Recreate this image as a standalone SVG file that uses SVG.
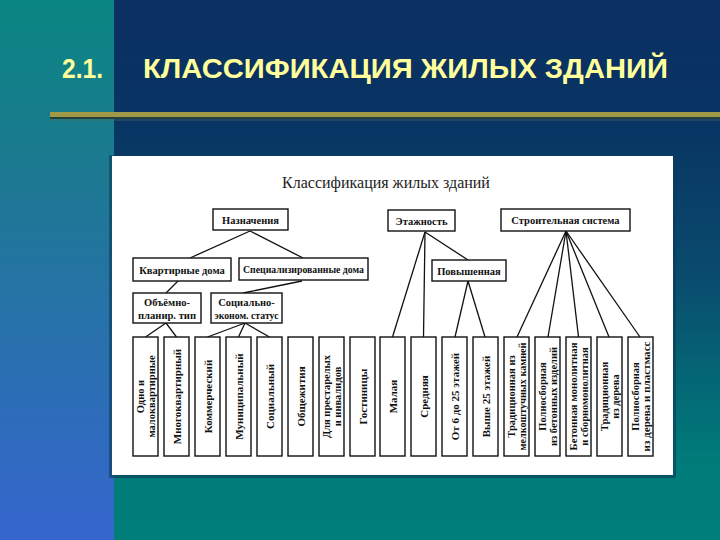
<svg xmlns="http://www.w3.org/2000/svg" width="720" height="540" viewBox="0 0 720 540">
<defs>
<linearGradient id="bg" x1="0" y1="0" x2="0" y2="1">
<stop offset="0" stop-color="#0b2f62"/>
<stop offset="0.22" stop-color="#083463"/>
<stop offset="0.5" stop-color="#0a4a6e"/>
<stop offset="0.85" stop-color="#007b7a"/>
<stop offset="1" stop-color="#007e7a"/>
</linearGradient>
<linearGradient id="strip" x1="0" y1="0" x2="0" y2="1">
<stop offset="0" stop-color="#0a8683"/>
<stop offset="0.3" stop-color="#1c7a90"/>
<stop offset="1" stop-color="#3666ce"/>
</linearGradient>
<style>
.t{font-family:"Liberation Sans","DejaVu Sans",sans-serif;font-weight:bold;fill:#ffff9c;font-size:28px}
.box{fill:#fff;stroke:#111;stroke-width:1.4}
.lbl{font-family:"Liberation Serif","DejaVu Serif",serif;font-weight:bold;font-size:10.5px;fill:#111;text-anchor:middle}
.vl{font-family:"Liberation Serif","DejaVu Serif",serif;font-weight:bold;font-size:11px;fill:#111;text-anchor:middle}
.vl2{font-family:"Liberation Serif","DejaVu Serif",serif;font-weight:bold;font-size:10.5px;fill:#111;text-anchor:middle}
#connectors line{stroke:#111;stroke-width:1.3}
</style>
</defs>
<rect x="0" y="0" width="720" height="540" fill="url(#bg)"/>
<rect x="0" y="0" width="114" height="540" fill="url(#strip)"/>
<text class="t" x="62" y="78" textLength="41" lengthAdjust="spacingAndGlyphs">2.1.</text>
<text class="t" x="143" y="78" textLength="525" lengthAdjust="spacingAndGlyphs">КЛАССИФИКАЦИЯ ЖИЛЫХ ЗДАНИЙ</text>
<rect x="50" y="112" width="670" height="5" fill="#a09a48"/>
<rect x="50" y="117" width="670" height="2" fill="#233f3e"/>
<rect x="50" y="119.5" width="670" height="1" fill="#5a6f5a" opacity="0.6"/>
<rect x="109" y="155" width="567" height="323" fill="#0c3a55" opacity="0.6"/>
<rect x="112" y="156" width="561" height="319" fill="#ffffff"/>
<text x="386" y="188" font-family="Liberation Serif, DejaVu Serif, serif" font-size="16" fill="#222" text-anchor="middle">Классификация жилых зданий</text>
<g id="connectors">
<line x1="250" y1="231" x2="190" y2="258"/>
<line x1="250" y1="231" x2="303" y2="258"/>
<line x1="178" y1="281" x2="166" y2="293"/>
<line x1="302" y1="281" x2="243" y2="293"/>
<line x1="166" y1="323" x2="145.5" y2="337"/>
<line x1="166" y1="323" x2="176.5" y2="337"/>
<line x1="245" y1="323" x2="207.5" y2="337"/>
<line x1="245" y1="323" x2="238.5" y2="337"/>
<line x1="245" y1="323" x2="269.5" y2="337"/>
<line x1="425" y1="232" x2="392.5" y2="337"/>
<line x1="425" y1="232" x2="423.5" y2="337"/>
<line x1="425" y1="232" x2="468" y2="260"/>
<line x1="468" y1="281" x2="455" y2="337"/>
<line x1="468" y1="281" x2="485" y2="337"/>
<line x1="566" y1="231" x2="517" y2="337"/>
<line x1="566" y1="231" x2="548" y2="337"/>
<line x1="566" y1="231" x2="578.5" y2="337"/>
<line x1="566" y1="231" x2="609" y2="337"/>
<line x1="566" y1="231" x2="640" y2="337"/>
</g>
<g id="n-naznachenie"><rect class="box" x="213" y="209" width="75" height="21"/><text class="lbl" x="250.5" y="223.5">Назначения</text></g>
<g id="n-etazhnost"><rect class="box" x="388" y="210" width="67" height="21"/><text class="lbl" x="421.5" y="224.5">Этажность</text></g>
<g id="n-stroit"><rect class="box" x="501" y="209" width="129" height="22"/><text class="lbl" x="565.5" y="223.5">Строительная система</text></g>
<g id="n-kvart"><rect class="box" x="133" y="258" width="98" height="23"/><text class="lbl" x="182" y="273.5">Квартирные дома</text></g>
<g id="n-spec"><rect class="box" x="239" y="258" width="129" height="22"/><text class="lbl" x="303.5" y="273" textLength="121" lengthAdjust="spacingAndGlyphs">Специализированные дома</text></g>
<g id="n-povysh"><rect class="box" x="432" y="260" width="74" height="21"/><text class="lbl" x="469" y="274.5">Повышенная</text></g>
<g id="n-obemno"><rect class="box" x="133" y="293" width="68" height="30"/><text class="lbl" x="167" y="306">Объёмно-</text><text class="lbl" x="167" y="319" textLength="58" lengthAdjust="spacingAndGlyphs">планир. тип</text></g>
<g id="n-social"><rect class="box" x="211" y="293" width="71" height="30"/><text class="lbl" x="246.5" y="306">Социально-</text><text class="lbl" x="246.5" y="319" textLength="64" lengthAdjust="spacingAndGlyphs">эконом. статус</text></g>
<g id="v1"><rect class="box" x="133" y="337" width="25" height="119"/><g transform="translate(145.5,396.5) rotate(-90)"><text class="vl2" y="-2">Одно и</text><text class="vl2" y="9">малоквартирные</text></g></g>
<g id="v2"><rect class="box" x="164" y="337" width="25" height="119"/><g transform="translate(176.5,396.5) rotate(-90)"><text class="vl" y="4">Многоквартирный</text></g></g>
<g id="v3"><rect class="box" x="195" y="337" width="25" height="119"/><g transform="translate(207.5,396.5) rotate(-90)"><text class="vl" y="4">Коммерческий</text></g></g>
<g id="v4"><rect class="box" x="226" y="337" width="25" height="119"/><g transform="translate(238.5,396.5) rotate(-90)"><text class="vl" y="4">Муниципальный</text></g></g>
<g id="v5"><rect class="box" x="257" y="337" width="25" height="119"/><g transform="translate(269.5,396.5) rotate(-90)"><text class="vl" y="4">Социальный</text></g></g>
<g id="v6"><rect class="box" x="288" y="337" width="25" height="119"/><g transform="translate(300.5,396.5) rotate(-90)"><text class="vl" y="4">Общежития</text></g></g>
<g id="v7"><rect class="box" x="319" y="337" width="25" height="119"/><g transform="translate(331.5,396.5) rotate(-90)"><text class="vl2" y="-2">Для престарелых</text><text class="vl2" y="9">и инвалидов</text></g></g>
<g id="v8"><rect class="box" x="350" y="337" width="25" height="119"/><g transform="translate(362.5,396.5) rotate(-90)"><text class="vl" y="4">Гостиницы</text></g></g>
<g id="v9"><rect class="box" x="380" y="337" width="25" height="119"/><g transform="translate(392.5,396.5) rotate(-90)"><text class="vl" y="4">Малая</text></g></g>
<g id="v10"><rect class="box" x="411" y="337" width="25" height="119"/><g transform="translate(423.5,396.5) rotate(-90)"><text class="vl" y="4">Средняя</text></g></g>
<g id="v11"><rect class="box" x="442" y="337" width="25" height="119"/><g transform="translate(454.5,396.5) rotate(-90)"><text class="vl" y="4">От 6 до 25 этажей</text></g></g>
<g id="v12"><rect class="box" x="473" y="337" width="25" height="119"/><g transform="translate(485.5,396.5) rotate(-90)"><text class="vl" y="4">Выше 25 этажей</text></g></g>
<g id="v13"><rect class="box" x="504" y="337" width="25" height="119"/><g transform="translate(516.5,396.5) rotate(-90)"><text class="vl2" y="-2">Традиционная из</text><text class="vl2" y="9" textLength="108" lengthAdjust="spacingAndGlyphs">мелкоштучных камней</text></g></g>
<g id="v14"><rect class="box" x="535" y="337" width="25" height="119"/><g transform="translate(547.5,396.5) rotate(-90)"><text class="vl2" y="-2">Полносборная</text><text class="vl2" y="9">из бетонных изделий</text></g></g>
<g id="v15"><rect class="box" x="566" y="337" width="25" height="119"/><g transform="translate(578.5,396.5) rotate(-90)"><text class="vl2" y="-2" textLength="108" lengthAdjust="spacingAndGlyphs">Бетонная монолитная</text><text class="vl2" y="9">и сборномонолитная</text></g></g>
<g id="v16"><rect class="box" x="597" y="337" width="25" height="119"/><g transform="translate(609.5,396.5) rotate(-90)"><text class="vl2" y="-2">Традиционная</text><text class="vl2" y="9">из дерева</text></g></g>
<g id="v17"><rect class="box" x="628" y="337" width="25" height="119"/><g transform="translate(640.5,396.5) rotate(-90)"><text class="vl2" y="-2">Полносборная</text><text class="vl2" y="9" textLength="110" lengthAdjust="spacingAndGlyphs">из дерева и пластмасс</text></g></g>
</svg>
